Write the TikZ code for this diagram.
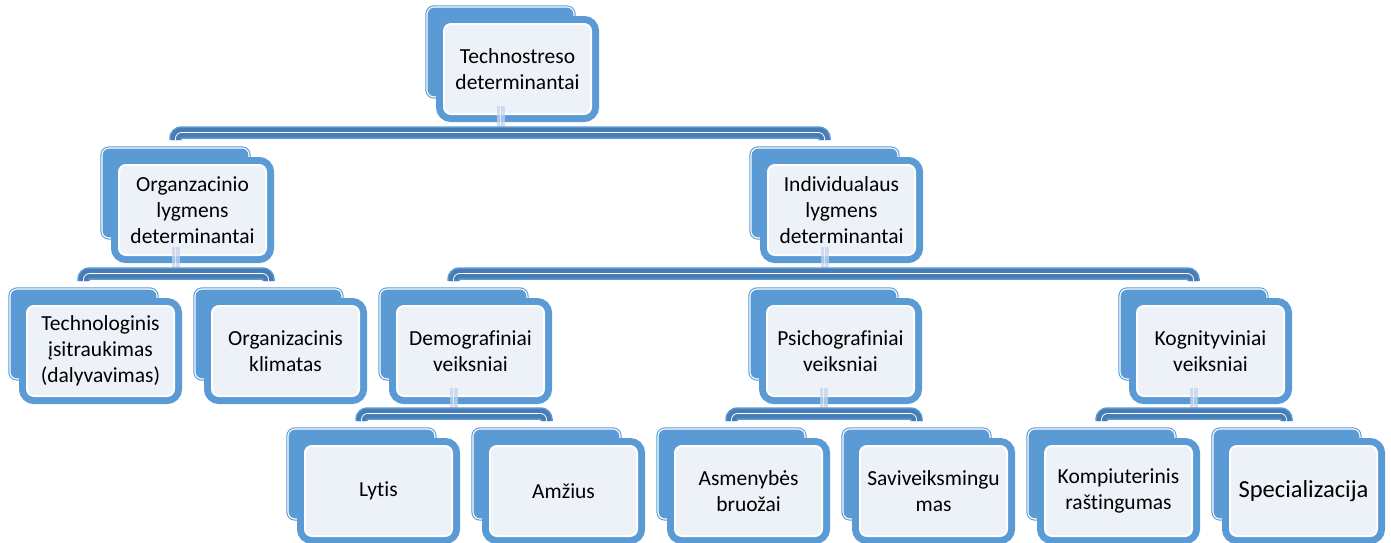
\documentclass[tikz,border=0pt]{standalone}
\usepackage{fontspec}
\setmainfont{Carlito}[Ligatures={NoCommon}]
\usetikzlibrary{calc}
\definecolor{boxblue}{RGB}{91,155,213}
\definecolor{bardark}{RGB}{72,124,180}
\definecolor{boxfill}{RGB}{237,242,249}
\definecolor{stemcol}{RGB}{196,212,234}
\tikzset{
  backbox/.style={rectangle, rounded corners=7pt, minimum width=147pt, minimum height=90pt,
    inner sep=0pt, outer sep=0pt, fill=boxblue, draw=boxblue, double=white,
    double distance=1.1pt, line width=1.1pt},
  frontbox/.style={rectangle, rounded corners=7pt, minimum width=147pt, minimum height=90pt,
    inner sep=0pt, outer sep=0pt, fill=boxfill, draw=white, line width=2pt,
    preaction={draw=boxblue, line width=16pt},
    align=center, text width=145pt, font=\fontsize{21.5}{26}\selectfont},
  barouter/.style={draw=boxblue, line width=12.5pt, rounded corners=6pt},
  barinner/.style={draw=bardark, line width=9.5pt, rounded corners=6pt},
  barline/.style={draw=white, line width=0.8pt, rounded corners=6pt},
  stemwide/.style={draw=stemcol, line width=8pt, opacity=0.75},
  stemline/.style={draw=white, line width=1.2pt, opacity=0.6},
}
\newcommand\tbox[4]{%
  \node[backbox] (#1b) at (#2+73.5, #3+45) {};
  \node[frontbox] (#1) at (#2+90.5, #3+62) {#4};
}
\newcommand\linkbar[3]{% first child, last child, parent
  \coordinate (#3barL) at ([yshift=15.5pt]#1b.north);
  \coordinate (#3barR) at ([yshift=15.5pt]#2b.north);
  \draw[stemwide] ([yshift=8pt]#3.south -| #3b.south) -- (#3b.south |- #3barL);
  \draw[stemline] ([yshift=8pt]#3.south -| #3b.south) -- (#3b.south |- #3barL);
  \foreach \sty in {barouter,barinner,barline}{
    \draw[\sty] ([yshift=8pt]#1b.north) -- (#3barL) -- (#3barR) -- ([yshift=8pt]#2b.north);
  }
}
\begin{document}
\begin{tikzpicture}[x=1pt,y=-1pt]
\useasboundingbox (0,0) rectangle (1391,542);
\tbox{root}{427}{7}{Technostreso\\determinantai}
\tbox{org}{102}{148}{Organzacinio\\lygmens\\determinantai}
\tbox{ind}{751}{148}{Individualaus\\lygmens\\determinantai}
\tbox{tech}{10}{289}{Technologinis\\įsitraukimas\\(dalyvavimas)}
\tbox{klim}{195}{289}{Organizacinis\\klimatas}
\tbox{demo}{380}{289}{Demografiniai\\veiksniai}
\tbox{psich}{750}{289}{Psichografiniai\\veiksniai}
\tbox{kogn}{1120}{289}{Kognityviniai\\veiksniai}
\tbox{lytis}{288}{429}{Lytis}
\tbox{amz}{473}{429}{Amžius}
\tbox{asm}{658}{429}{Asmenybės\\bruožai}
\tbox{sav}{843}{429}{Saviveiksmingu\\mas}
\tbox{komp}{1028}{429}{Kompiuterinis\\raštingumas}
\tbox{spec}{1213}{429}{\fontsize{24.5}{29}\selectfont Specializacija}
\linkbar{org}{ind}{root}
\linkbar{tech}{klim}{org}
\linkbar{demo}{kogn}{ind}
\linkbar{lytis}{amz}{demo}
\linkbar{asm}{sav}{psich}
\linkbar{komp}{spec}{kogn}
\end{tikzpicture}
\end{document}
